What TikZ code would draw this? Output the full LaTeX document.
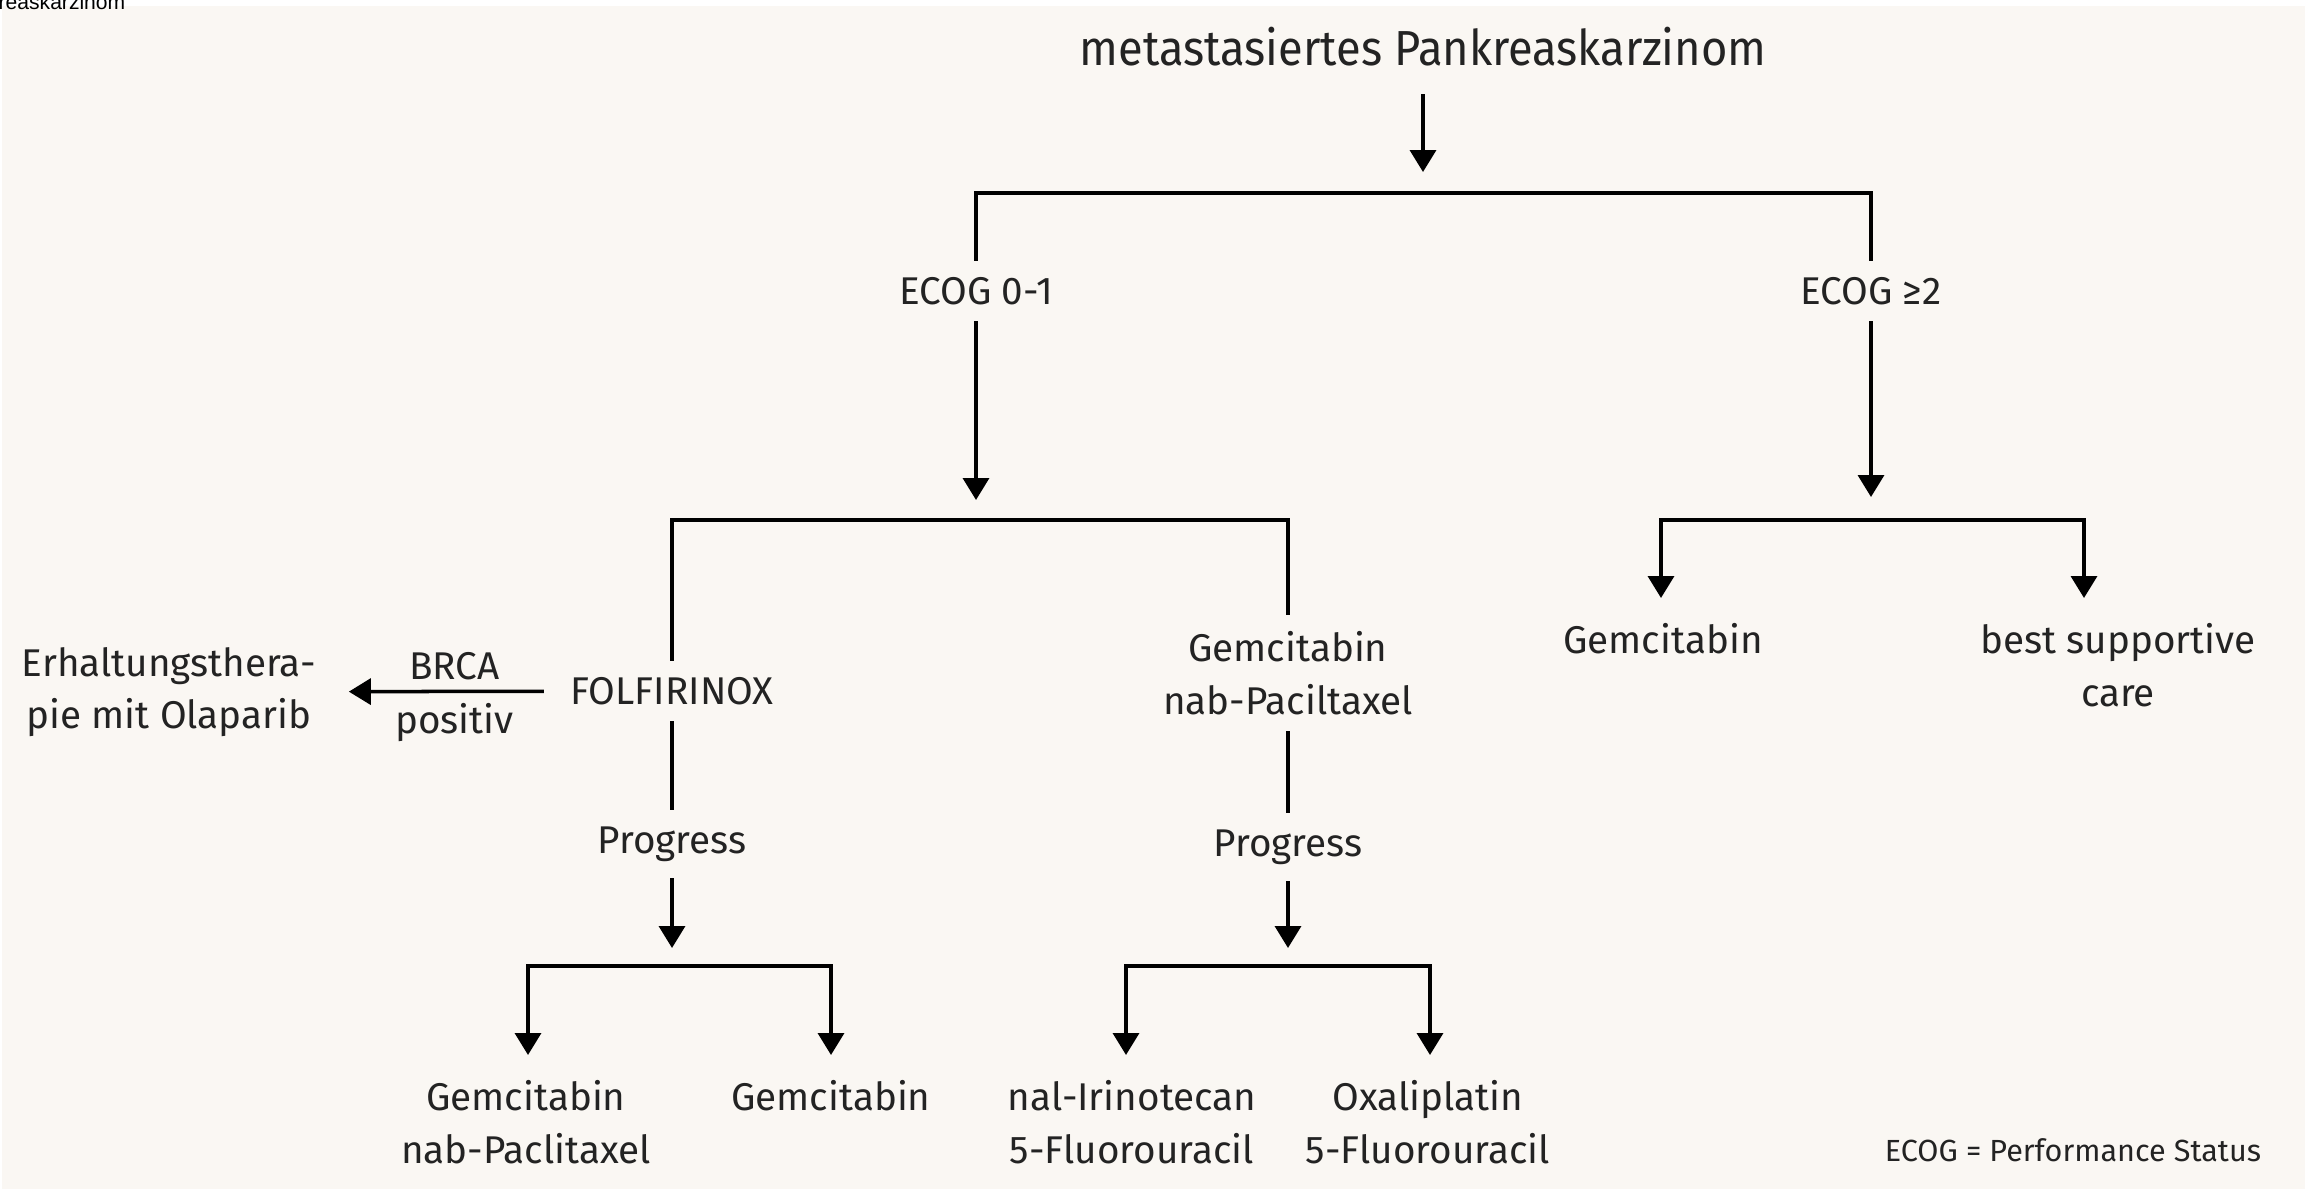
\documentclass[tikz,border=0pt]{standalone}
\usepackage{fontspec}
\setmainfont{Fira Sans}
\newfontfamily\altfont{Liberation Sans}
\newfontfamily\titelfont[FakeStretch=0.92]{Fira Sans}
\usetikzlibrary{arrows.meta}
\definecolor{hgrund}{RGB}{250,247,243}
\definecolor{schrift}{RGB}{35,35,35}

\begin{document}
\begin{tikzpicture}[
  linie/.style={line width=1pt},
  pfeil/.style={line width=1pt, -{Triangle[width=2.6mm,length=2.2mm]}},
  doppel/.style={line width=1pt, {Triangle[width=2.6mm,length=2.2mm]}-{Triangle[width=2.6mm,length=2.2mm]}},
  txt/.style={text=schrift, font=\fontsize{11}{15}\selectfont, inner sep=1.6mm, align=center},
  titel/.style={text=schrift, font=\titelfont\fontsize{14}{17}\selectfont, inner xsep=1.6mm, inner ysep=2.7mm},
  legende/.style={text=schrift, font=\fontsize{8.7}{10}\selectfont}]

% Rahmen und Hintergrund
\useasboundingbox (0,0) rectangle (23.05,-11.89);
\fill[white] (0,0) rectangle (23.05,-11.89);
\fill[hgrund] (0.02,-0.06) rectangle (23.05,-11.89);
\node[anchor=base west, inner sep=0, font=\altfont\fontsize{6}{6}\selectfont] (alt) at (-0.02,-0.09) {reaskarzinom};

% Kopf
\node[titel] (titel) at (14.23,-0.47) {metastasiertes Pankreaskarzinom};
\coordinate (p0) at (14.23,-1.72);
\draw[pfeil] (titel) -- (p0);

% ECOG-Verzweigung
\node[txt] (ecogA) at (9.76,-2.91) {ECOG 0-1};
\node[txt] (ecogB) at (18.71,-2.91) {ECOG ≥2};
\coordinate (b1l) at (9.76,-1.93);
\coordinate (b1r) at (18.71,-1.93);
\draw[linie] (ecogA) -- (b1l) -- (b1r) -- (ecogB);
\coordinate (p1) at (9.76,-5.00);
\coordinate (p2) at (18.71,-4.97);
\draw[pfeil] (ecogA) -- (p1);
\draw[pfeil] (ecogB) -- (p2);

% Erstlinie
\node[txt] (folfi) at (6.72,-6.91) {FOLFIRINOX};
\node[txt] (gemnab) at (12.88,-6.73) {Gemcitabin\\nab-Paciltaxel};
\coordinate (b2l) at (6.72,-5.20);
\coordinate (b2r) at (12.88,-5.20);
\draw[linie] (folfi) -- (b2l) -- (b2r) -- (gemnab);

% BRCA
\node[txt] (olap) at (1.69,-6.92) {Erhaltungsthera-\\pie mit Olaparib};
\draw[pfeil, shorten <=1mm, shorten >=1.6mm] (folfi) -- (olap)
  node[txt, pos=0.45, above, inner sep=1mm] (brca) {BRCA}
  node[txt, pos=0.45, below, inner sep=1mm] (positiv) {positiv};

% Progress
\node[txt] (progA) at (6.72,-8.44) {Progress};
\node[txt] (progB) at (12.88,-8.47) {Progress};
\draw[linie] (folfi) -- (progA);
\draw[linie] (gemnab) -- (progB);
\coordinate (p3) at (6.72,-9.48);
\coordinate (p4) at (12.88,-9.48);
\draw[pfeil] (progA) -- (p3);
\draw[pfeil] (progB) -- (p4);

% Zweitlinie
\coordinate (b3l) at (5.28,-9.66);
\coordinate (b3r) at (8.31,-9.66);
\coordinate (b4l) at (11.26,-9.66);
\coordinate (b4r) at (14.30,-9.66);
\coordinate (q1) at (5.28,-10.55);
\coordinate (q2) at (8.31,-10.55);
\coordinate (q3) at (11.26,-10.55);
\coordinate (q4) at (14.30,-10.55);
\draw[doppel] (q1) -- (b3l) -- (b3r) -- (q2);
\draw[doppel] (q3) -- (b4l) -- (b4r) -- (q4);
\node[txt, anchor=north] (gemnab2) at (5.26,-10.64) {Gemcitabin\\nab-Paclitaxel};
\node[txt, anchor=north] (gem2) at (8.31,-10.64) {Gemcitabin};
\node[txt, anchor=north] (nalfu) at (11.32,-10.64) {nal-Irinotecan\\5-Fluorouracil};
\node[txt, anchor=north] (oxfu) at (14.28,-10.64) {Oxaliplatin\\5-Fluorouracil};

% ECOG >= 2
\coordinate (b5l) at (16.61,-5.20);
\coordinate (b5r) at (20.84,-5.20);
\coordinate (r1) at (16.61,-5.98);
\coordinate (r2) at (20.84,-5.98);
\draw[doppel] (r1) -- (b5l) -- (b5r) -- (r2);
\node[txt, anchor=north] (gem3) at (16.63,-6.07) {Gemcitabin};
\node[txt, anchor=north] (bsc) at (21.18,-6.07) {best supportive\\care};

% Legende
\node[legende] (legende) at (20.73,-11.50) {ECOG = Performance Status};

\end{tikzpicture}
\end{document}
